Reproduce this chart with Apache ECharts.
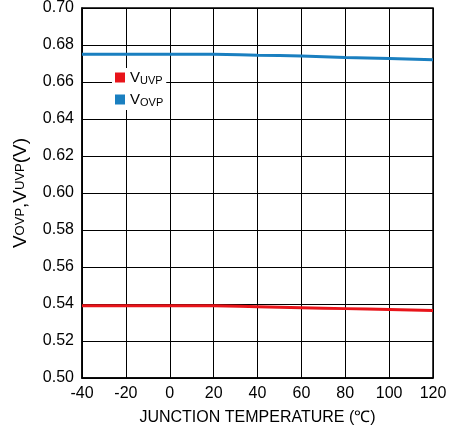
<!DOCTYPE html>
<html><head><meta charset="utf-8">
<script src="https://cdn.jsdelivr.net/npm/echarts@6/dist/echarts.min.js"></script>
<style>html,body{margin:0;padding:0;background:#fff}#c{width:450px;height:433px}</style>
</head><body><div id="c"></div>
<script>
const temps = [-40,-20,0,20,40,60,80,100,120];
const vuvp = [0.539,0.539,0.539,0.539,0.5385,0.538,0.5375,0.537,0.5365];
const vovp = [0.675,0.675,0.675,0.675,0.6745,0.674,0.6733,0.6727,0.672];
const chart = echarts.init(document.getElementById('c'));
const F = 'Liberation Sans, Arial, sans-serif';
const mk = (arr)=>temps.map((t,i)=>[t,arr[i]]);
chart.setOption({
  animation:false,
  grid:{left:82,right:17,top:8,bottom:55,show:true,borderColor:'#000',borderWidth:1.5},
  legend:{left:112,top:68,orient:'vertical',itemWidth:10,itemHeight:10,itemGap:6,
    backgroundColor:'#fff',padding:[2,3],icon:'rect',
    textStyle:{fontFamily:F,fontSize:15,color:'#000',rich:{s:{fontSize:11,verticalAlign:'bottom',padding:[6,0,0,0],fontFamily:F}}},
    formatter:n=>n==='uvp'?'V{s|UVP}':'V{s|OVP}',
    data:['uvp','ovp']},
  xAxis:{type:'value',min:-40,max:120,interval:20,
    name:'JUNCTION TEMPERATURE (℃)',nameLocation:'middle',nameGap:32,
    nameTextStyle:{fontFamily:F,fontSize:16,color:'#000'},
    axisLine:{onZero:false,lineStyle:{color:'#000',width:1.5}},axisTick:{show:false},
    axisLabel:{fontFamily:F,fontSize:16,color:'#000',margin:8},
    splitLine:{lineStyle:{color:'#000',width:1}}},
  yAxis:{type:'value',min:0.50,max:0.70,interval:0.02,
    name:'V{s|OVP},V{s|UVP}(V)',nameLocation:'middle',nameGap:52,
    nameTextStyle:{fontFamily:F,fontSize:19,color:'#000',rich:{s:{fontSize:13,fontFamily:F}}},
    axisLine:{show:true,onZero:false,lineStyle:{color:'#000',width:1.5}},axisTick:{show:false},
    axisLabel:{fontFamily:F,fontSize:16,color:'#000',formatter:v=>v.toFixed(2)},
    splitLine:{lineStyle:{color:'#000',width:1}}},
  series:[
    {name:'uvp',type:'line',data:mk(vuvp),symbol:'none',smooth:true,itemStyle:{color:'#e8141a'},lineStyle:{color:'#e8141a',width:3}},
    {name:'ovp',type:'line',data:mk(vovp),symbol:'none',smooth:true,itemStyle:{color:'#1a7fc0'},lineStyle:{color:'#1a7fc0',width:3}}
  ]
});
</script></body></html>
